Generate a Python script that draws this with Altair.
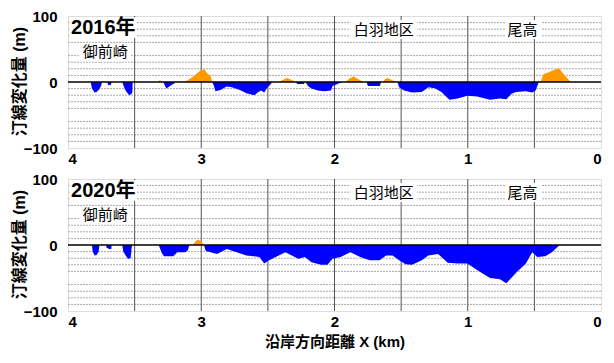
import altair as alt
import pandas as pd

# ---- data (km along coast, shoreline change in m) ----
x2016 = [3.83, 3.82, 3.80, 3.785, 3.765, 3.75, 3.745,
         3.735, 3.73, 3.72,
         3.705, 3.70, 3.68, 3.673,
         3.593, 3.585, 3.57, 3.56, 3.54, 3.525, 3.517, 3.515,
         3.325, 3.31, 3.295,
         3.285, 3.27, 3.26, 3.24, 3.22, 3.20, 3.195,
         3.186, 3.175, 3.161,
         3.124, 3.10, 3.076, 3.05, 3.027, 3.00, 2.975, 2.955, 2.93, 2.918,
         2.917, 2.905, 2.893, 2.857, 2.808, 2.771, 2.710, 2.661, 2.601, 2.576,
         2.552, 2.527, 2.510, 2.486, 2.466,
         2.418, 2.39, 2.356, 2.32, 2.295,
         2.29, 2.28, 2.23, 2.222,
         2.217, 2.20, 2.173, 2.125, 2.076, 2.027, 2.015, 1.99, 1.944,
         1.917, 1.89, 1.857, 1.82, 1.783,
         1.759, 1.75, 1.66, 1.650,
         1.637, 1.62, 1.601, 1.57, 1.540,
         1.527, 1.515, 1.478, 1.418, 1.345, 1.296, 1.247, 1.198, 1.137, 1.076,
         1.003, 0.930, 0.833, 0.759, 0.710, 0.674, 0.637, 0.564, 0.516, 0.491,
         0.467,
         0.454, 0.430, 0.40, 0.369, 0.315, 0.284, 0.247, 0.227]
y2016 = [0, -10, -16, -15, -11, -5, 0,
         0, 1.5, 0,
         0, -4, -5, 0,
         0, -5, -12, -15, -20, -18, -15, 0,
         0, 3, 0,
         0, -7, -10, -7, -4, -2, 0,
         0, 2, 0,
         0, 3, 6, 10, 14, 18, 19, 13, 9, 0,
         0, -6, -14, -12, -7, -8, -12, -17, -20, -16,
         -13, -16, -10, -5, 0,
         0, 3, 6, 3, 0,
         0, -3, -3, 0,
         0, -6, -10, -13, -14, -13, -6, -4, 0,
         0, 5, 8.5, 4, 0,
         0, -6, -6, 0,
         0, 4, 6, 3, 0,
         0, -8, -13, -16, -15, -8, -9.5, -15, -27, -25,
         -21, -22, -27, -25, -26, -18, -15, -14, -16, -13,
         0,
         0, 12, 14, 17, 21, 13, 4, 0]

x2020 = [3.82, 3.815, 3.80, 3.785, 3.77, 3.764,
         3.715, 3.71, 3.69, 3.675, 3.673,
         3.593, 3.585, 3.57, 3.55, 3.53, 3.52,
         3.32, 3.31, 3.296, 3.28, 3.21, 3.195, 3.18, 3.173, 3.12, 3.10, 3.09,
         3.064, 3.045, 3.027, 3.00, 2.98,
         2.966, 2.930, 2.881, 2.808, 2.734, 2.661, 2.564, 2.527, 2.491, 2.418,
         2.369, 2.320, 2.271, 2.222, 2.173, 2.100, 2.052, 2.015, 1.954, 1.881,
         1.808, 1.735, 1.661, 1.613, 1.564, 1.515, 1.467, 1.418, 1.345, 1.296,
         1.223, 1.150, 1.076, 1.003, 0.930, 0.833, 0.759, 0.710, 0.637, 0.564,
         0.516, 0.479, 0.418, 0.369, 0.320, 0.315]
y2020 = [0, -10, -16, -15, -10, 0,
         0, -4, -6, -6, 0,
         0, -10, -15, -21, -20, 0,
         0, -5, -12, -17, -17, -14, -11, -11, -11, -8, 0,
         0, 5, 8, 6, 0,
         -9, -11, -13.5, -6, -11, -16, -18, -28, -23, -16,
         -11, -16, -21, -18, -26, -30, -30, -21, -18, -11,
         -18, -23, -23, -16, -16, -23, -29, -30, -23, -16,
         -13.5, -27, -28, -28, -38, -50, -52, -58, -42, -28,
         -11, -18, -17, -11, -2, 0]

years = ["2016年", "2020年"]
grid_y = [-90, -80, -70, -60, -40, -30, -20, -10, 10, 20, 30, 40, 60, 70, 80, 90]
grid_x = [3.5, 3.0, 2.5, 2.0, 1.5, 1.0, 0.5]
x_ticks = [0, 1, 2, 3, 4]
y_ticks = [-100, -50, 0, 50, 100]

# annotation boxes (data coordinates)
label_text = ["御前崎", "白羽地区", "尾高"]
label_x = [3.72, 1.63, 0.59]
label_y = [45, 79, 79]
box_x1 = [3.92, 1.88, 0.72]
box_x2 = [3.525, 1.38, 0.45]
box_y1 = [31, 65, 65]
box_y2 = [59, 94, 94]
year_box = (3.99, 3.485, 67, 98)
year_pos = (3.735, 82)

FONT = "Liberation Sans, Arial, Noto Sans CJK JP"
W, H = 533, 132

xscale = alt.Scale(domain=[0, 4], reverse=True, nice=False)
yscale = alt.Scale(domain=[-100, 100], nice=False)


def panel(xs, ys, year, show_xtitle):
    df = pd.DataFrame({"x": xs, "v": ys})
    df["pos"] = df["v"].clip(lower=0)
    df["neg"] = df["v"].clip(upper=0)
    df["zero"] = 0

    xaxis = alt.Axis(values=x_ticks, format="d", ticks=False, grid=False,
                     labelFontSize=15, labelFontWeight="bold", labelPadding=3,
                     labelColor="black", domain=False,
                     title="沿岸方向距離 X (km)" if show_xtitle else None,
                     titleFontSize=15, titleFontWeight="bold", titlePadding=5,
                     titleColor="black")
    yaxis = alt.Axis(values=y_ticks, ticks=False, grid=False, domain=False,
                     labelFontSize=15, labelFontWeight="bold", labelPadding=11,
                     labelColor="black",
                     title="汀線変化量 (m)", titleFontSize=16, titleFontWeight="bold",
                     titleAngle=270, titleAlign="center", titleBaseline="middle",
                     titleX=-49, titleY=65, titleColor="black")

    base_x = alt.X("x:Q", scale=xscale, axis=xaxis)

    gdf = pd.DataFrame({"g": grid_y})
    hgrid = alt.Chart(gdf).mark_rule(color="#a8a8a8", strokeWidth=1,
                                     strokeDash=[2, 1]).encode(
        y=alt.Y("g:Q", scale=yscale, axis=yaxis))
    vdf = pd.DataFrame({"gx": grid_x})
    vgrid = alt.Chart(vdf).mark_rule(color="#555", strokeWidth=1).encode(
        x=alt.X("gx:Q", scale=xscale, axis=xaxis))

    pos = alt.Chart(df).mark_area(color="#FF9900", interpolate="linear").encode(
        x=base_x, y=alt.Y("pos:Q", scale=yscale), y2="zero:Q")
    neg = alt.Chart(df).mark_area(color="#0000FF", interpolate="linear").encode(
        x=base_x, y=alt.Y("neg:Q", scale=yscale), y2="zero:Q")
    zline = alt.Chart(pd.DataFrame({"z": [0]})).mark_rule(
        color="black", strokeWidth=1.5).encode(y=alt.Y("z:Q", scale=yscale))

    bdf = pd.DataFrame({"x1": box_x1 + [year_box[0]], "x2": box_x2 + [year_box[1]],
                        "y1": box_y1 + [year_box[2]], "y2": box_y2 + [year_box[3]]})
    boxes = alt.Chart(bdf).mark_rect(color="white").encode(
        x=alt.X("x1:Q", scale=xscale), x2="x2:Q",
        y=alt.Y("y1:Q", scale=yscale), y2="y2:Q")

    ldf = pd.DataFrame({"t": label_text, "lx": label_x, "ly": label_y})
    labels = alt.Chart(ldf).mark_text(fontSize=15, font=FONT, color="black").encode(
        x=alt.X("lx:Q", scale=xscale), y=alt.Y("ly:Q", scale=yscale), text="t:N")
    ydf = pd.DataFrame({"t": [year], "lx": [year_pos[0]], "ly": [year_pos[1]]})
    ylabel = alt.Chart(ydf).mark_text(fontSize=20, fontWeight="bold", font=FONT,
                                      color="black").encode(
        x=alt.X("lx:Q", scale=xscale), y=alt.Y("ly:Q", scale=yscale), text="t:N")

    return alt.layer(hgrid, vgrid, pos, neg, zline, boxes, labels, ylabel).properties(
        width=W, height=H)


top = panel(x2016, y2016, years[0], False)
bottom = panel(x2020, y2020, years[1], True)

chart = alt.vconcat(top, bottom, spacing=31, bounds="flush").properties(
    padding={"top": 0, "left": 2, "right": 0, "bottom": 0}
).configure_view(stroke="#333", strokeWidth=1.5).configure(
    font=FONT, background="white")

chart.save("out.html", embed_options={"renderer": "svg", "actions": False})
